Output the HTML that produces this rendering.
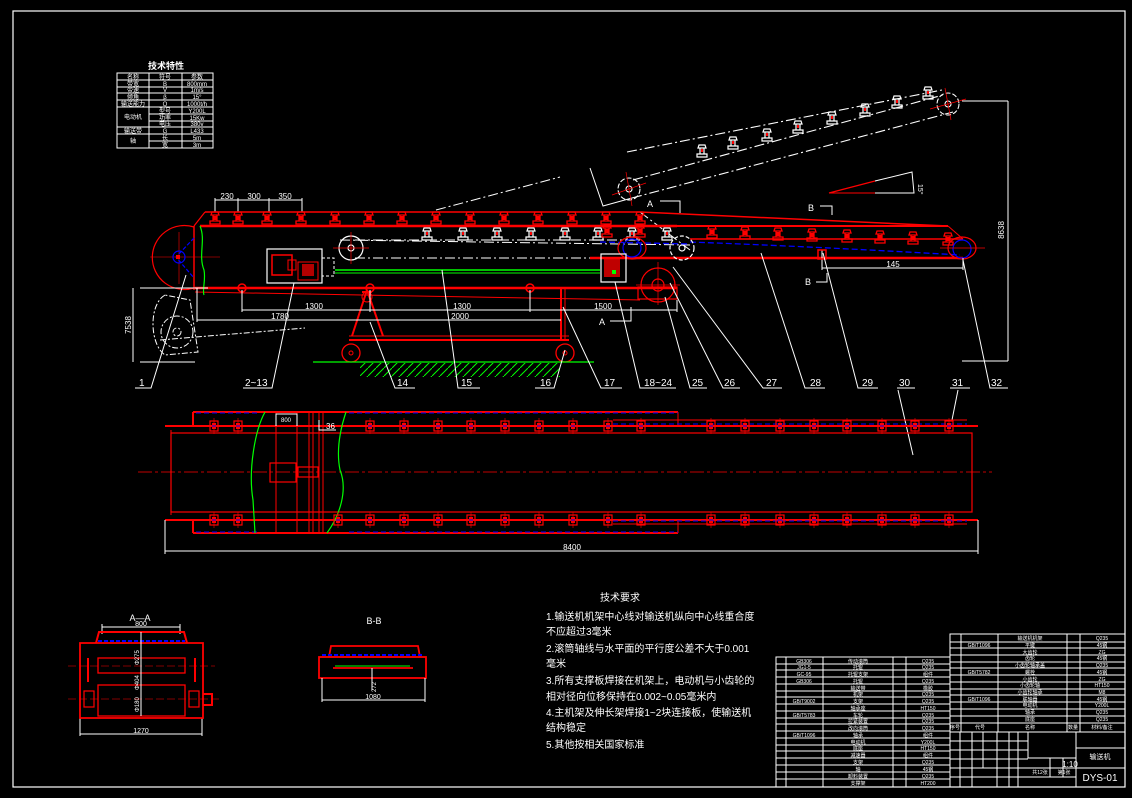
<!DOCTYPE html>
<html><head><meta charset="utf-8"><style>
html,body{margin:0;padding:0;background:#000;}
svg{display:block;}
text{font-family:"Liberation Sans","Noto Sans CJK SC",sans-serif;}
</style></head><body>
<svg width="1132" height="798" viewBox="0 0 1132 798" xmlns="http://www.w3.org/2000/svg">
<defs>
<symbol id="ir" viewBox="-6 -8 12 16" width="12" height="16" overflow="visible">
<path d="M-3,-7 L3,-7 L4,-4 L-4,-4 Z M-2,-4 L-2,2 M2,-4 L2,2 M-5,2 L5,2 L5,5 L-5,5 Z" stroke="#f00" stroke-width="1.3" fill="none"/>
<rect x="-1.5" y="-3" width="3" height="4" fill="#f00"/>
</symbol>
<symbol id="iw" viewBox="-6 -8 12 16" width="12" height="16" overflow="visible">
<path d="M-3,-7 L3,-7 L4,-4 L-4,-4 Z M-2,-4 L-2,2 M2,-4 L2,2 M-5,2 L5,2 L5,5 L-5,5 Z" stroke="#fff" stroke-width="1.2" fill="none"/>
<rect x="-1" y="-3" width="2" height="3" fill="#f00"/>
</symbol>
<symbol id="pi" viewBox="-5 -6 10 12" width="10" height="12" overflow="visible">
<rect x="-4" y="-5" width="8" height="10" stroke="#f00" fill="none" stroke-width="1.2"/>
<rect x="-2" y="-3" width="4" height="6" fill="#f00"/>
<line x1="0" y1="-8" x2="0" y2="8" stroke="#f00" stroke-width="0.6"/>
<line x1="-2" y1="0" x2="2" y2="0" stroke="#00f" stroke-width="1"/>
</symbol>
<pattern id="hat" width="8" height="8" patternUnits="userSpaceOnUse"><path d="M0,8 L8,0" stroke="#0f0" stroke-width="1"/></pattern>
</defs>
<rect width="1132" height="798" fill="#000"/>
<!-- frame -->
<rect x="13" y="11" width="1112" height="776" fill="none" stroke="#fff" stroke-width="1.2"/>

<!-- spec table -->
<text x="166" y="69" fill="#fff" font-size="9" text-anchor="middle" font-weight="bold">技术特性</text>
<g stroke="#fff" stroke-width="1" fill="none">
<rect x="117" y="73" width="96" height="75"/>
<line x1="149" y1="73" x2="149" y2="148"/><line x1="182" y1="73" x2="182" y2="148"/>
<line x1="117" y1="80" x2="213" y2="80"/><line x1="117" y1="87" x2="213" y2="87"/>
<line x1="117" y1="93" x2="213" y2="93"/><line x1="117" y1="100" x2="213" y2="100"/>
<line x1="117" y1="107" x2="213" y2="107"/><line x1="149" y1="114" x2="213" y2="114"/>
<line x1="149" y1="121" x2="213" y2="121"/><line x1="117" y1="127" x2="213" y2="127"/>
<line x1="117" y1="134" x2="213" y2="134"/><line x1="149" y1="141" x2="213" y2="141"/>
</g>
<g fill="#fff" font-size="6" text-anchor="middle">
<text x="133" y="79">名称</text><text x="165" y="79">符号</text><text x="197" y="79">参数</text>
<text x="133" y="86">带宽</text><text x="165" y="86">B</text><text x="197" y="86">800mm</text>
<text x="133" y="92">带速</text><text x="165" y="92">V</text><text x="197" y="92">1m/s</text>
<text x="133" y="99">倾角</text><text x="165" y="99">β</text><text x="197" y="99">15°</text>
<text x="133" y="106">输送能力</text><text x="165" y="106">Q</text><text x="197" y="106">1000t/h</text>
<text x="133" y="119">电动机</text><text x="165" y="113">型号</text><text x="197" y="113">Y200L</text>
<text x="165" y="120">功率</text><text x="197" y="120">15Kw</text>
<text x="165" y="126">电压</text><text x="197" y="126">380v</text>
<text x="133" y="133">输送带</text><text x="165" y="133">G</text><text x="197" y="133">L433</text>
<text x="133" y="143">轴</text><text x="165" y="140">长</text><text x="197" y="140">5m</text>
<text x="165" y="147">宽</text><text x="197" y="147">3m</text>
</g>

<!-- ===== ELEVATION ===== -->
<!-- top dims -->
<g stroke="#fff" stroke-width="1" fill="none">
<line x1="215" y1="200" x2="302" y2="200"/>
<line x1="215" y1="198" x2="215" y2="212"/><line x1="238" y1="198" x2="238" y2="212"/>
<line x1="269" y1="198" x2="269" y2="212"/><line x1="302" y1="198" x2="302" y2="212"/>
</g>
<g fill="#fff" font-size="8" text-anchor="middle">
<text x="227" y="199">230</text><text x="254" y="199">300</text><text x="285" y="199">350</text>
</g>
<!-- dash lines upper -->
<g stroke="#fff" stroke-width="1" fill="none" stroke-dasharray="10,3,2,3">
<line x1="436" y1="210" x2="560" y2="177"/>
<line x1="640" y1="212" x2="690" y2="250"/>
<line x1="355" y1="240" x2="640" y2="240"/>
<line x1="355" y1="258" x2="640" y2="258"/>
<line x1="340" y1="240" x2="690" y2="245"/>
</g>
<!-- main red frame -->
<g stroke="#f00" fill="none">
<line x1="205" y1="212" x2="640" y2="212" stroke-width="1.5"/>
<line x1="640" y1="212" x2="948" y2="226" stroke-width="1.5"/>
<line x1="200" y1="226" x2="677" y2="226" stroke-width="2.5"/>
<line x1="590" y1="226" x2="948" y2="226" stroke-width="2"/>
<line x1="690" y1="239" x2="963" y2="239" stroke-width="1.5"/>
<line x1="590" y1="258" x2="963" y2="258" stroke-width="2.5"/>
<line x1="195" y1="288" x2="677" y2="288" stroke-width="2.5"/>
<line x1="195" y1="292" x2="640" y2="300" stroke-width="1"/>
<line x1="194" y1="226" x2="194" y2="290" stroke-width="1.5"/>
<path d="M194,227 A32,32 0 1,0 194,288" stroke-width="1.2"/>
<line x1="205" y1="212" x2="194" y2="226" stroke-width="1.2"/>
<line x1="948" y1="226" x2="963" y2="239" stroke-width="1"/>
<line x1="150" y1="257" x2="220" y2="257" stroke-width="0.6"/>
<line x1="179" y1="232" x2="179" y2="284" stroke-width="0.6"/>
</g>
<path d="M194,238 L176,257 L194,278" stroke="#00f" fill="none" stroke-width="1.2" stroke-dasharray="4,2"/>
<circle cx="179" cy="257" r="6" stroke="#00f" fill="none" stroke-width="1.2"/>
<rect x="176" y="255" width="4" height="4" fill="#f00"/>
<path d="M200,226 C206,240 198,255 204,270 C206,280 202,290 204,295" stroke="#0f0" fill="none" stroke-width="1.2"/>
<!-- blue belt on right -->
<path d="M690,242 Q823,247 960,255" stroke="#00f" fill="none" stroke-width="1.3" stroke-dasharray="6,3"/>
<path d="M600,242 L690,244" stroke="#00f" fill="none" stroke-width="1.3" stroke-dasharray="6,3"/>
<!-- top idlers -->
<g>
<use href="#ir" x="209" y="211"/><use href="#ir" x="232" y="211"/><use href="#ir" x="261" y="211"/><use href="#ir" x="295" y="211"/>
<use href="#ir" x="329" y="211"/><use href="#ir" x="363" y="211"/><use href="#ir" x="396" y="211"/><use href="#ir" x="430" y="211"/>
<use href="#ir" x="464" y="211"/><use href="#ir" x="498" y="211"/><use href="#ir" x="532" y="211"/><use href="#ir" x="566" y="211"/>
<use href="#ir" x="600" y="211"/><use href="#ir" x="634" y="211"/>
</g>
<g>
<use href="#iw" x="421" y="227"/><use href="#iw" x="457" y="227"/><use href="#iw" x="491" y="227"/><use href="#iw" x="525" y="227"/>
<use href="#iw" x="559" y="227"/><use href="#iw" x="592" y="227"/><use href="#iw" x="626" y="227"/><use href="#iw" x="661" y="227"/>
</g>
<g>
<use href="#ir" x="601" y="224"/><use href="#ir" x="634" y="224"/><use href="#ir" x="706" y="225"/><use href="#ir" x="739" y="226"/>
<use href="#ir" x="772" y="227"/><use href="#ir" x="806" y="228"/><use href="#ir" x="841" y="229"/><use href="#ir" x="874" y="230"/>
<use href="#ir" x="907" y="231"/><use href="#ir" x="942" y="232"/>
</g>
<!-- pulleys -->
<g fill="none" stroke-width="1.2">
<circle cx="351" cy="248" r="12" stroke="#fff"/><circle cx="351" cy="248" r="3" stroke="#fff"/>
<line x1="333" y1="248" x2="369" y2="248" stroke="#f00" stroke-width="0.7"/><line x1="351" y1="232" x2="351" y2="264" stroke="#f00" stroke-width="0.7"/>
<ellipse cx="632" cy="248" rx="14" ry="11" stroke="#f00"/><circle cx="632" cy="248" r="9" stroke="#00f"/>
<circle cx="682" cy="248" r="12" stroke="#fff" stroke-dasharray="4,2"/><circle cx="682" cy="248" r="3" stroke="#fff"/>
<ellipse cx="962" cy="248" rx="14" ry="11" stroke="#f00"/><circle cx="962" cy="249" r="9" stroke="#00f"/>
<line x1="940" y1="248" x2="985" y2="248" stroke="#f00" stroke-width="0.7"/>
<circle cx="658" cy="285" r="17" stroke="#f00"/><circle cx="658" cy="285" r="6" stroke="#f00"/>
<line x1="636" y1="285" x2="680" y2="285" stroke="#f00" stroke-width="0.7"/><line x1="658" y1="262" x2="658" y2="305" stroke="#f00" stroke-width="0.7"/>
<rect x="638" y="287" width="39" height="12" stroke="#f00"/>
</g>
<!-- drive box -->
<rect x="267" y="249" width="55" height="34" stroke="#fff" fill="none" stroke-width="1.2"/>
<rect x="272" y="255" width="20" height="20" stroke="#f00" fill="none" stroke-width="1.5"/>
<rect x="288" y="260" width="8" height="10" stroke="#f00" fill="none"/>
<path d="M298,262 L318,262 L318,280 L298,280 Z" stroke="#f00" fill="none"/>
<rect x="302" y="264" width="12" height="12" fill="#f00" opacity="0.7"/>
<rect x="322" y="258" width="12" height="18" stroke="#fff" fill="none" stroke-dasharray="3,2"/>
<!-- right drive box -->
<rect x="601" y="254" width="25" height="28" stroke="#fff" fill="none" stroke-width="1.2"/>
<rect x="604" y="257" width="16" height="20" fill="#f00" opacity="0.75"/>
<rect x="612" y="270" width="4" height="4" fill="#0f0"/>
<!-- green rods -->
<line x1="335" y1="270" x2="600" y2="270" stroke="#0f0" stroke-width="1.5"/>
<line x1="335" y1="273" x2="600" y2="273" stroke="#0f0" stroke-width="1"/>
<!-- support frame -->
<g stroke="#f00" fill="none" stroke-width="2">
<line x1="349" y1="340" x2="569" y2="340"/>
<line x1="349" y1="336" x2="569" y2="336" stroke-width="1"/>
<path d="M367,290 L352,336 M367,290 L383,336 M362,292 L372,292"/>
<line x1="561" y1="288" x2="561" y2="340"/>
<line x1="565" y1="288" x2="565" y2="340" stroke-width="1"/>
<circle cx="351" cy="353" r="9" stroke-width="1.3"/><circle cx="565" cy="353" r="9" stroke-width="1.3"/>
<circle cx="351" cy="353" r="2" stroke-width="1"/><circle cx="565" cy="353" r="2" stroke-width="1"/>
<circle cx="367" cy="297" r="5" stroke-width="1"/>
<circle cx="242" cy="288" r="4" stroke-width="1.5"/><circle cx="370" cy="288" r="4" stroke-width="1.5"/><circle cx="530" cy="288" r="4" stroke-width="1.5"/>
</g>
<line x1="313" y1="362" x2="594" y2="362" stroke="#0f0" stroke-width="1.2"/>
<rect x="360" y="363" width="200" height="14" fill="url(#hat)"/>
<!-- dims lower -->
<g stroke="#fff" stroke-width="1" fill="none">
<line x1="242" y1="310" x2="677" y2="310"/>
<line x1="242" y1="290" x2="242" y2="312"/><line x1="370" y1="290" x2="370" y2="312"/><line x1="530" y1="290" x2="530" y2="312"/><line x1="677" y1="300" x2="677" y2="312"/>
<line x1="197" y1="320" x2="561" y2="320"/>
<line x1="197" y1="288" x2="197" y2="322"/>
<line x1="140" y1="288" x2="208" y2="288"/><line x1="140" y1="362" x2="195" y2="362"/>
<line x1="133" y1="288" x2="133" y2="362"/>
</g>
<g fill="#fff" font-size="8" text-anchor="middle">
<text x="314" y="309">1300</text><text x="462" y="309">1300</text><text x="603" y="309">1500</text>
<text x="280" y="319">1780</text><text x="460" y="319">2000</text>
<text x="131" y="325" transform="rotate(-90 131 325)">7538</text>
</g>
<!-- counterweight dashed -->
<g stroke="#fff" fill="none" stroke-width="1" stroke-dasharray="6,2,2,2">
<circle cx="177" cy="332" r="16"/>
<circle cx="177" cy="332" r="4"/>
<path d="M165,295 C148,305 150,345 165,355 L198,352 L190,300 Z"/>
<line x1="160" y1="340" x2="305" y2="328"/>
</g>
<!-- inclined conveyor -->
<g stroke="#fff" fill="none" stroke-width="1.1" stroke-dasharray="10,3,2,3">
<line x1="627" y1="152" x2="942" y2="90"/>
<line x1="633" y1="180" x2="943" y2="95"/>
<line x1="632" y1="198" x2="953" y2="112"/>
</g>
<path d="M590,168 L603,206 L632,198" stroke="#fff" fill="none"/>
<g fill="none" stroke-width="1.1">
<circle cx="629" cy="189" r="11" stroke="#fff" stroke-dasharray="5,2"/><circle cx="629" cy="189" r="3" stroke="#fff"/>
<line x1="612" y1="195" x2="646" y2="183" stroke="#f00" stroke-width="0.7"/><line x1="626" y1="172" x2="632" y2="206" stroke="#f00" stroke-width="0.7"/>
<circle cx="948" cy="104" r="11" stroke="#fff" stroke-dasharray="5,2"/><circle cx="948" cy="104" r="3" stroke="#fff"/>
<line x1="930" y1="109" x2="966" y2="99" stroke="#f00" stroke-width="0.7"/><line x1="945" y1="88" x2="951" y2="120" stroke="#f00" stroke-width="0.7"/>
</g>
<g>
<use href="#iw" x="696" y="144"/><use href="#iw" x="727" y="136"/><use href="#iw" x="761" y="128"/><use href="#iw" x="792" y="120"/>
<use href="#iw" x="826" y="111"/><use href="#iw" x="859" y="103"/><use href="#iw" x="891" y="95"/><use href="#iw" x="922" y="86"/>
</g>
<!-- angle triangle -->
<path d="M829,193 L875,181" stroke="#f00" stroke-width="1.2"/>
<path d="M875,181 L912,172 L914,193 L875,193" stroke="#fff" fill="none"/>
<path d="M829,193 L875,193" stroke="#f00"/>
<text x="918" y="184" fill="#fff" font-size="7" transform="rotate(90 918 184)">15°</text>
<!-- 8638 dim -->
<g stroke="#fff" fill="none">
<line x1="962" y1="101" x2="1008" y2="101"/><line x1="962" y1="361" x2="1008" y2="361"/><line x1="1008" y1="101" x2="1008" y2="361"/>
</g>
<text x="1004" y="230" fill="#fff" font-size="8" text-anchor="middle" transform="rotate(-90 1004 230)">8638</text>
<!-- 145 dim -->
<g stroke="#fff" fill="none"><line x1="822" y1="268" x2="963" y2="268"/><line x1="822" y1="250" x2="822" y2="270"/><line x1="963" y1="258" x2="963" y2="270"/></g>
<text x="893" y="267" fill="#fff" font-size="8" text-anchor="middle">145</text>
<rect x="818" y="250" width="8" height="9" stroke="#f00" fill="none" stroke-width="1.5"/>
<!-- section marks -->
<g stroke="#fff" fill="none">
<path d="M660,201 L680,201 L680,213"/><path d="M820,206 L832,206 L832,215"/>
<path d="M816,282 L827,282 L827,273"/><path d="M610,321 L631,321 L631,307"/>
</g>
<g fill="#fff" font-size="9">
<text x="647" y="207">A</text><text x="808" y="211">B</text><text x="805" y="285">B</text><text x="599" y="325">A</text>
</g>
<!-- leaders -->
<g stroke="#fff" stroke-width="1" fill="none">
<path d="M186,275 L151,388 L135,388"/>
<path d="M294,283 L272,388 L243,388"/>
<path d="M370,322 L395,388 L415,388"/>
<path d="M442,270 L458,388 L480,388"/>
<path d="M565,350 L554,388 L535,388"/>
<path d="M563,307 L601,388 L622,388"/>
<path d="M615,282 L640,388 L676,388"/>
<path d="M665,297 L690,388 L707,388"/>
<path d="M670,283 L723,388 L740,388"/>
<path d="M673,267 L763,388 L782,388"/>
<path d="M761,253 L805,388 L825,388"/>
<path d="M823,253 L858,388 L878,388"/>
<path d="M897,388 L915,388"/><path d="M898,390 L913,455"/>
<path d="M950,388 L970,388"/><path d="M958,390 L952,420"/>
<path d="M963,260 L990,388 L1008,388"/>
</g>
<g fill="#fff" font-size="10">
<text x="139" y="386">1</text><text x="245" y="386">2~13</text><text x="397" y="386">14</text>
<text x="461" y="386">15</text><text x="540" y="386">16</text><text x="604" y="386">17</text>
<text x="644" y="386">18~24</text><text x="692" y="386">25</text><text x="724" y="386">26</text>
<text x="766" y="386">27</text><text x="810" y="386">28</text><text x="862" y="386">29</text>
<text x="899" y="386">30</text><text x="952" y="386">31</text><text x="991" y="386">32</text>
</g>

<!-- ===== PLAN VIEW ===== -->
<line x1="138" y1="472" x2="992" y2="472" stroke="#f00" stroke-width="0.8" stroke-dasharray="14,3,3,3"/>
<g stroke="#f00" fill="none">
<path d="M193,412 L678,412 M193,412 L193,427 M193,533 L678,533 M193,520 L193,533" stroke-width="2"/>
<line x1="165" y1="426" x2="978" y2="426" stroke-width="2"/>
<line x1="165" y1="520" x2="978" y2="520" stroke-width="2"/>
<rect x="171" y="433" width="801" height="79" stroke-width="1.2"/>
<line x1="678" y1="412" x2="678" y2="426" stroke-width="1"/><line x1="678" y1="520" x2="678" y2="533" stroke-width="1"/>
<line x1="613" y1="420" x2="967" y2="420" stroke-width="1"/><line x1="613" y1="524" x2="967" y2="524" stroke-width="1"/>
<line x1="276" y1="412" x2="276" y2="533"/><line x1="297" y1="412" x2="297" y2="533"/>
<line x1="309" y1="412" x2="309" y2="533"/><line x1="313" y1="412" x2="313" y2="533"/>
<line x1="319" y1="412" x2="319" y2="533"/><line x1="323" y1="412" x2="323" y2="533"/>
<rect x="270" y="463" width="26" height="19" stroke-width="1.2"/>
<rect x="298" y="467" width="20" height="10" stroke-width="1.2"/>
<line x1="171" y1="430" x2="171" y2="515" stroke-width="1"/>
</g>
<g stroke="#00f" fill="none" stroke-width="1" stroke-dasharray="5,3">
<line x1="349" y1="413" x2="678" y2="413"/><line x1="196" y1="413" x2="260" y2="413"/>
<line x1="349" y1="532" x2="678" y2="532"/><line x1="196" y1="532" x2="260" y2="532"/>
<line x1="613" y1="424" x2="967" y2="424"/><line x1="613" y1="521" x2="967" y2="521"/>
</g>
<path d="M265,412 C255,430 248,470 253,500 L255,533" stroke="#0f0" fill="none" stroke-width="1.2"/>
<path d="M346,412 C340,430 336,450 340,470 C348,490 340,515 327,533" stroke="#0f0" fill="none" stroke-width="1.2"/>
<g>
<use href="#pi" x="209" y="420"/><use href="#pi" x="233" y="420"/>
<use href="#pi" x="365" y="420"/><use href="#pi" x="399" y="420"/><use href="#pi" x="433" y="420"/><use href="#pi" x="466" y="420"/>
<use href="#pi" x="500" y="420"/><use href="#pi" x="534" y="420"/><use href="#pi" x="568" y="420"/><use href="#pi" x="603" y="420"/><use href="#pi" x="636" y="420"/>
<use href="#pi" x="706" y="420"/><use href="#pi" x="740" y="420"/><use href="#pi" x="775" y="420"/><use href="#pi" x="809" y="420"/>
<use href="#pi" x="842" y="420"/><use href="#pi" x="877" y="420"/><use href="#pi" x="910" y="420"/><use href="#pi" x="944" y="420"/>
<use href="#pi" x="209" y="514"/><use href="#pi" x="233" y="514"/>
<use href="#pi" x="333" y="514"/><use href="#pi" x="365" y="514"/><use href="#pi" x="399" y="514"/><use href="#pi" x="433" y="514"/><use href="#pi" x="466" y="514"/>
<use href="#pi" x="500" y="514"/><use href="#pi" x="534" y="514"/><use href="#pi" x="568" y="514"/><use href="#pi" x="603" y="514"/><use href="#pi" x="636" y="514"/>
<use href="#pi" x="706" y="514"/><use href="#pi" x="740" y="514"/><use href="#pi" x="775" y="514"/><use href="#pi" x="809" y="514"/>
<use href="#pi" x="842" y="514"/><use href="#pi" x="877" y="514"/><use href="#pi" x="910" y="514"/><use href="#pi" x="944" y="514"/>
</g>
<g stroke="#fff" fill="none">
<path d="M276,426 L276,414 L297,414 L297,426"/>
<path d="M319,420 L319,430 L336,430"/>
<line x1="165" y1="551" x2="978" y2="551"/><line x1="165" y1="520" x2="165" y2="554"/><line x1="978" y1="520" x2="978" y2="554"/>
</g>
<text x="286" y="422" fill="#fff" font-size="6" text-anchor="middle">800</text>
<text x="326" y="429" fill="#fff" font-size="8">36</text>
<text x="572" y="550" fill="#fff" font-size="8" text-anchor="middle">8400</text>

<!-- ===== A-A ===== -->
<text x="140" y="621" fill="#fff" font-size="9" text-anchor="middle">A—A</text>
<g stroke="#fff" fill="none"><line x1="102" y1="627" x2="180" y2="627"/><line x1="102" y1="624" x2="102" y2="634"/><line x1="180" y1="624" x2="180" y2="634"/>
<line x1="80" y1="734" x2="202" y2="734"/><line x1="80" y1="718" x2="80" y2="736"/><line x1="202" y1="718" x2="202" y2="736"/></g>
<text x="141" y="626" fill="#fff" font-size="7" text-anchor="middle">800</text>
<text x="141" y="733" fill="#fff" font-size="7" text-anchor="middle">1270</text>
<g stroke="#f00" fill="none" stroke-width="2">
<path d="M80,643 L80,718 L203,718 L203,643 Z" stroke-width="1.8"/>
<path d="M96,643 L99,632 L184,632 L187,643"/>
<rect x="98" y="658" width="87" height="15" stroke-width="1.3"/>
<rect x="98" y="685" width="87" height="31" stroke-width="1.3"/>
<rect x="84" y="691" width="10" height="16" stroke-width="1.2"/>
<rect x="189" y="691" width="10" height="16" stroke-width="1.2"/>
<path d="M203,694 L212,694 L212,705 L203,705"/>
<line x1="88" y1="658" x2="88" y2="682"/><line x1="195" y1="658" x2="195" y2="682"/>
<line x1="68" y1="666" x2="215" y2="666" stroke-width="0.6" stroke-dasharray="8,3"/>
<line x1="68" y1="699" x2="220" y2="699" stroke-width="0.6" stroke-dasharray="8,3"/>
</g>
<line x1="98" y1="641" x2="185" y2="641" stroke="#00f" stroke-width="2" stroke-dasharray="4,2"/>
<line x1="141" y1="632" x2="141" y2="716" stroke="#fff"/>
<text x="139" y="665" fill="#fff" font-size="6" transform="rotate(-90 139 665)">Φ275</text>
<text x="139" y="690" fill="#fff" font-size="6" transform="rotate(-90 139 690)">Φ404</text>
<text x="139" y="712" fill="#fff" font-size="6" transform="rotate(-90 139 712)">Φ180</text>

<!-- ===== B-B ===== -->
<text x="374" y="624" fill="#fff" font-size="9" text-anchor="middle">B-B</text>
<g stroke="#f00" fill="none" stroke-width="1.8">
<path d="M329,657 L331,646 L418,646 L420,657"/>
<rect x="319" y="657" width="107" height="21"/>
<path d="M333,668 L413,668"/>
</g>
<line x1="322" y1="655" x2="423" y2="655" stroke="#00f" stroke-width="2" stroke-dasharray="4,2"/>
<line x1="335" y1="666" x2="410" y2="666" stroke="#0f0" stroke-width="1"/>
<g stroke="#fff" fill="none"><line x1="322" y1="700" x2="425" y2="700"/><line x1="322" y1="678" x2="322" y2="702"/><line x1="425" y1="678" x2="425" y2="702"/><line x1="372" y1="668" x2="372" y2="690"/></g>
<text x="373" y="699" fill="#fff" font-size="7" text-anchor="middle">1080</text>
<text x="376" y="692" fill="#fff" font-size="6" transform="rotate(-90 376 692)">272</text>

<!-- tech requirements -->
<g fill="#fff" font-size="10" font-family="Liberation Sans, Noto Sans CJK SC, sans-serif">
<text x="620" y="601" text-anchor="middle" font-size="10">技术要求</text>
<text x="546" y="620">1.输送机机架中心线对输送机纵向中心线重合度</text>
<text x="546" y="635">不应超过3毫米</text>
<text x="546" y="652">2.滚筒轴线与水平面的平行度公差不大于0.001</text>
<text x="546" y="667">毫米</text>
<text x="546" y="684">3.所有支撑板焊接在机架上，电动机与小齿轮的</text>
<text x="546" y="700">相对径向位移保持在0.002~0.05毫米内</text>
<text x="546" y="716">4.主机架及伸长架焊接1~2块连接板，使输送机</text>
<text x="546" y="731">结构稳定</text>
<text x="546" y="748">5.其他按相关国家标准</text>
</g>

<!-- ===== BOM / title block ===== -->
<g stroke="#fff" stroke-width="1" fill="none">
<!-- right upper table -->
<rect x="950" y="634" width="175" height="98"/>
<line x1="961" y1="634" x2="961" y2="732"/><line x1="998" y1="634" x2="998" y2="732"/>
<line x1="1067" y1="634" x2="1067" y2="732"/><line x1="1080" y1="634" x2="1080" y2="732"/>
<path d="M950,642 H1125 M950,648 H1125 M950,655 H1125 M950,662 H1125 M950,668 H1125 M950,675 H1125 M950,682 H1125 M950,689 H1125 M950,695 H1125 M950,702 H1125 M950,709 H1125 M950,716 H1125 M950,723 H1125"/>
<!-- left table -->
<rect x="776" y="657" width="174" height="130"/>
<line x1="786" y1="657" x2="786" y2="787"/><line x1="823" y1="657" x2="823" y2="787"/>
<line x1="893" y1="657" x2="893" y2="787"/><line x1="906" y1="657" x2="906" y2="787"/>
<path d="M776,664 H950 M776,670 H950 M776,677 H950 M776,684 H950 M776,691 H950 M776,697 H950 M776,704 H950 M776,711 H950 M776,718 H950 M776,724 H950 M776,731 H950 M776,738 H950 M776,745 H950 M776,751 H950 M776,758 H950 M776,765 H950 M776,772 H950 M776,779 H950"/>
<!-- lower right block -->
<path d="M950,741 H1028 M950,750 H1028 M950,759 H1028 M950,768 H1028 M950,777 H1028"/>
<path d="M960,732 V787 M972,732 V787 M983,732 V768 M997,732 V787 M1009,732 V787 M1018,732 V787"/>
<rect x="1028" y="732" width="48" height="26"/>
<rect x="1076" y="732" width="49" height="16"/>
<line x1="1076" y1="748" x2="1076" y2="787"/><line x1="1076" y1="768" x2="1125" y2="768"/>
<path d="M1028,768 H1076 M1028,777 H1076 M1050,758 V777 M1063,758 V777"/>
</g>
<g fill="#fff" font-size="5" text-anchor="middle">
<text x="1030" y="640">输送机机架</text><text x="1030" y="647">平键</text><text x="1030" y="654">大齿轮</text><text x="1030" y="660">齿轮</text>
<text x="1030" y="667">小齿轮轴承盖</text><text x="1030" y="674">螺栓</text><text x="1030" y="681">小齿轮</text><text x="1030" y="687">小齿轮轴</text>
<text x="1030" y="694">小齿轮轴承</text><text x="1030" y="701">联轴器</text><text x="1030" y="707">电动机</text><text x="1030" y="714">轴承</text><text x="1030" y="721">底座</text>
<text x="1030" y="729">名称</text><text x="955" y="729">序号</text><text x="980" y="729">代号</text><text x="1073" y="729">数量</text><text x="1102" y="729">材料/备注</text>
<text x="979" y="647">GB/T1096</text><text x="979" y="674">GB/T5782</text><text x="979" y="701">GB/T1096</text>
<text x="1102" y="640">Q235</text><text x="1102" y="647">45钢</text><text x="1102" y="654">ZG</text><text x="1102" y="660">45钢</text>
<text x="1102" y="667">Q235</text><text x="1102" y="674">45钢</text><text x="1102" y="681">ZG</text><text x="1102" y="687">HT150</text>
<text x="1102" y="694">M8</text><text x="1102" y="701">45钢</text><text x="1102" y="707">Y200L</text><text x="1102" y="714">Q235</text><text x="1102" y="721">Q235</text>
<text x="858" y="663">传动滚筒</text><text x="858" y="669">托辊</text><text x="858" y="676">托辊支架</text><text x="858" y="683">托辊</text>
<text x="858" y="690">输送带</text><text x="858" y="696">机架</text><text x="858" y="703">支架</text><text x="858" y="710">轴承座</text>
<text x="858" y="717">车轮</text><text x="858" y="723">拉紧装置</text><text x="858" y="730">改向滚筒</text><text x="858" y="737">轴承</text>
<text x="858" y="744">电动机</text><text x="858" y="750">底座</text><text x="858" y="757">减速器</text><text x="858" y="764">支架</text><text x="858" y="771">轴</text><text x="858" y="778">卸料装置</text><text x="858" y="785">支撑架</text>
<text x="928" y="663">Q235</text><text x="928" y="669">Q235</text><text x="928" y="676">组件</text><text x="928" y="683">Q235</text>
<text x="928" y="690">橡胶</text><text x="928" y="696">Q235</text><text x="928" y="703">Q235</text><text x="928" y="710">HT150</text>
<text x="928" y="717">Q235</text><text x="928" y="723">Q235</text><text x="928" y="730">Q235</text><text x="928" y="737">组件</text>
<text x="928" y="744">Y200L</text><text x="928" y="750">HT150</text><text x="928" y="757">组件</text><text x="928" y="764">Q235</text><text x="928" y="771">45钢</text><text x="928" y="778">Q235</text><text x="928" y="785">HT200</text>
<text x="804" y="663">GB306</text><text x="804" y="669">JG1-5</text><text x="804" y="676">GC-95</text><text x="804" y="683">GB306</text>
<text x="804" y="703">GB/T9002</text><text x="804" y="717">GB/T5783</text><text x="804" y="737">GB/T1096</text>
<text x="1100" y="759" font-size="7">输送机</text>
<text x="1040" y="774">共12张</text><text x="1064" y="774">第1张</text>
</g>
<text x="1100" y="781" fill="#fff" font-size="10" text-anchor="middle">DYS-01</text>
<text x="1070" y="767" fill="#fff" font-size="8" text-anchor="middle">1:10</text>
</svg>
</body></html>
